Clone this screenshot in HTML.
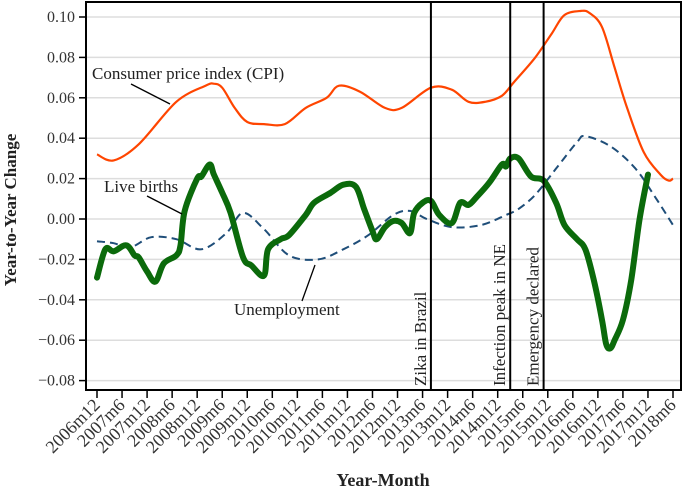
<!DOCTYPE html>
<html><head><meta charset="utf-8"><style>
body{margin:0;background:#fff;}
svg{display:block;font-family:"Liberation Serif",serif;}
</style></head><body>
<svg id="chart" width="685" height="492">
<g id="grid"></g>
<g id="series"></g>
<g id="events"></g>
<rect x="86" y="2" width="595" height="388" fill="none" stroke="#000" stroke-width="2"/>
<g id="yaxis"></g>
<g id="xaxis"></g>
<text x="16" y="210" transform="rotate(-90 16 210)" text-anchor="middle" font-size="17" font-weight="bold" fill="#222">Year-to-Year Change</text>
<text x="383" y="486" text-anchor="middle" font-size="18" font-weight="bold" fill="#222">Year-Month</text>
<text x="92" y="79" font-size="17" fill="#222">Consumer price index (CPI)</text>
<line x1="131" y1="84" x2="170" y2="104" stroke="#000" stroke-width="1.3"/>
<text x="104" y="192" font-size="17" fill="#222">Live births</text>
<line x1="147" y1="196" x2="182" y2="214" stroke="#000" stroke-width="1.3"/>
<text x="234" y="315" font-size="17" fill="#222">Unemployment</text>
<line x1="315" y1="265" x2="302" y2="301" stroke="#000" stroke-width="1.3"/>
</svg>
<script>
const yTicks=[0.10,0.08,0.06,0.04,0.02,0.00,-0.02,-0.04,-0.06,-0.08];
const xTickLabels=["2006m12","2007m6","2007m12","2008m6","2008m12","2009m6","2009m12","2010m6","2010m12","2011m6","2011m12","2012m6","2012m12","2013m6","2013m12","2014m6","2014m12","2015m6","2015m12","2016m6","2016m12","2017m6","2017m12","2018m6"];
const cpiMonths=[0,4,10,19,26,28,30,33,36,40,45,50,55,58,63,69,73,80,85,89,93,97,100,105,109,112,116,118,121,124,127,131,135,137,138];
const cpiValues=[0.032,0.029,0.037,0.058,0.066,0.067,0.065,0.055,0.048,0.047,0.047,0.055,0.060,0.066,0.063,0.055,0.055,0.065,0.064,0.058,0.058,0.061,0.068,0.080,0.092,0.101,0.103,0.102,0.095,0.075,0.055,0.033,0.022,0.019,0.020];
const unempMonths=[0,4,8,13,19,25,31,35,40,46,53,59,65,71,75,79,85,92,98,101,105,110,115,117,123,129,134,138];
const unempValues=[-0.011,-0.012,-0.014,-0.009,-0.010,-0.015,-0.007,0.003,-0.005,-0.018,-0.020,-0.015,-0.008,0.002,0.004,0.000,-0.004,-0.003,0.002,0.005,0.012,0.025,0.038,0.041,0.036,0.025,0.010,-0.003];
const birthMonths=[0,2,4,7,9,10,12,14,16,19,20,21,24,25,27,28,30,32,35,37,40,41,44,46,50,52,56,59,62,64,66,67,69,71,73,75,76,78,80,82,85,87,89,91,94,97,98,99,101,104,107,110,112,115,117,119,121,122,123,124,126,128,130,132];
const birthValues=[-0.029,-0.015,-0.016,-0.013,-0.018,-0.019,-0.026,-0.031,-0.022,-0.018,-0.013,0.004,0.020,0.021,0.027,0.022,0.013,0.003,-0.019,-0.023,-0.028,-0.015,-0.010,-0.008,0.002,0.008,0.013,0.017,0.016,0.005,-0.006,-0.010,-0.004,-0.001,-0.002,-0.007,0.003,0.008,0.009,0.002,-0.002,0.008,0.007,0.011,0.018,0.027,0.026,0.030,0.030,0.021,0.019,0.008,-0.003,-0.010,-0.015,-0.030,-0.050,-0.062,-0.064,-0.060,-0.050,-0.030,0.000,0.022];
const eventMonths=[80,99,107];
const eventLabels=["Zika in Brazil","Infection peak in NE","Emergency declared"];

const NS="http://www.w3.org/2000/svg";
const X=m=>97+m*(576/138);
const Y=v=>219-v*2020;
function mk(t,a,p){const e=document.createElementNS(NS,t);for(const k in a)e.setAttribute(k,a[k]);p.appendChild(e);return e;}
const grid=document.getElementById('grid'),yax=document.getElementById('yaxis'),xax=document.getElementById('xaxis'),ser=document.getElementById('series'),ev=document.getElementById('events');
yTicks.forEach(v=>{
  const g=mk('line',{x1:87,x2:680,y1:Y(v),y2:Y(v),stroke:'#ddd','stroke-width':1.5},grid);
  
  
  mk('line',{x1:79,x2:86,y1:Y(v),y2:Y(v),stroke:'#000','stroke-width':1.5},yax);
  const t=mk('text',{x:75,y:Y(v)+5,'text-anchor':'end','font-size':16,fill:'#333'},yax);
  t.textContent=(v<0?'\u2212':'')+Math.abs(v).toFixed(2);
  
  
});
xTickLabels.forEach((l,i)=>{
  const x=X(i*6);
  mk('line',{x1:x,x2:x,y1:391,y2:398,stroke:'#000','stroke-width':1.5},xax);
  const t=mk('text',{x:x+4,y:406,'text-anchor':'end','font-size':18,fill:'#333',transform:`rotate(-45 ${x+4} 406)`},xax);
  t.textContent=l;
  
  
});
function path(ms,vs){
  const p=ms.map((m,i)=>[X(m),Y(vs[i])]);
  let d='M'+p[0][0].toFixed(1)+','+p[0][1].toFixed(1);
  for(let i=0;i<p.length-1;i++){
    const p0=p[Math.max(0,i-1)],p1=p[i],p2=p[i+1],p3=p[Math.min(p.length-1,i+2)];
    const c1=[p1[0]+(p2[0]-p0[0])/6,p1[1]+(p2[1]-p0[1])/6];
    const c2=[p2[0]-(p3[0]-p1[0])/6,p2[1]-(p3[1]-p1[1])/6];
    d+='C'+c1.map(v=>v.toFixed(1)).join(',')+' '+c2.map(v=>v.toFixed(1)).join(',')+' '+p2.map(v=>v.toFixed(1)).join(',');
  }
  return d;
}
const u=mk('path',{d:path(unempMonths,unempValues),fill:'none',stroke:'#1f4e79','stroke-width':2,'stroke-dasharray':'8,5'},ser);


const c=mk('path',{d:path(cpiMonths,cpiValues),fill:'none',stroke:'#ff4500','stroke-width':2.2},ser);


const b=mk('path',{d:path(birthMonths,birthValues),fill:'none',stroke:'#0b6a0b','stroke-width':6,'stroke-linejoin':'round','stroke-linecap':'round'},ser);


eventMonths.forEach((m,i)=>{
  const x=X(m);
  const l=mk('line',{x1:x,x2:x,y1:2,y2:390,stroke:'#000','stroke-width':2},ev);
  
  
  const t=mk('text',{x:x-5,y:386,'font-size':17,fill:'#222',transform:`rotate(-90 ${x-5} 386)`},ev);
  t.textContent=eventLabels[i];
  
  
});
</script>
</body></html>
